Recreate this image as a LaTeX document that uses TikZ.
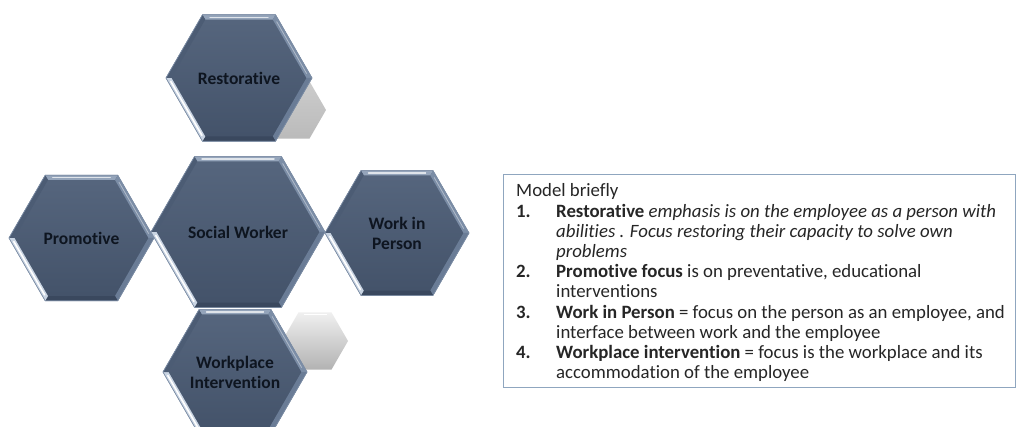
\documentclass[tikz,border=0pt]{standalone}
\usepackage{fontspec}
\setmainfont{Carlito}[Ligatures=NoCommon]
\definecolor{hexTop}{HTML}{56667E}
\definecolor{hexBot}{HTML}{435269}
\definecolor{hexEdge}{HTML}{7D8EA6}
\definecolor{bevLight}{HTML}{C9D4E2}
\definecolor{bevTopC}{HTML}{94A4BA}
\definecolor{bevUR}{HTML}{7B8DA6}
\definecolor{bevLR}{HTML}{6A7C96}
\definecolor{bevBot}{HTML}{3A485E}
\definecolor{bevUL}{HTML}{4C5C74}
\definecolor{labelCol}{HTML}{0E1520}
\definecolor{textCol}{HTML}{262626}
\definecolor{frameCol}{HTML}{8FA6BF}
\begin{document}
\begin{tikzpicture}[x=1pt,y=-1pt,
  hexface/.style={top color=hexTop,bottom color=hexBot,draw=hexEdge,line width=0.6pt},
  hexlabel/.style={align=center,inner sep=0pt,text=labelCol,
    font=\fontsize{17.5}{20}\selectfont\bfseries},
  greyhexA/.style={top color=black!20,bottom color=black!27},
  greyhexB/.style={top color=black!6,bottom color=black!30},
  boxline/.style={anchor=base west,inner sep=0pt,text=textCol,
    font=\fontsize{18.8}{20}\selectfont},
  boxnum/.style={boxline,font=\fontsize{18.8}{20}\selectfont\bfseries},
  notebox/.style={draw=frameCol,line width=0.8pt,fill=white,inner sep=0pt}]

\useasboundingbox[fill=white] (0,0) rectangle (1022,427);
\clip (0,0) rectangle (1022,427);

% bevelled hexagon: name, centre, radius, label
\newcommand\bevelhex[4]{%
  \begin{scope}[shift={#2}]
    \pgfmathsetmacro\ri{#3-5.5}
    \pgfmathsetmacro\rm{#3-2.8}
    \path[hexface] (0:#3)--(60:#3)--(120:#3)--(180:#3)--(240:#3)--(300:#3)--cycle;
    \fill[bevTopC] (240:#3)--(300:#3)--(300:\ri)--(240:\ri)--cycle;
    \fill[bevUR]   (300:#3)--(0:#3)--(0:\ri)--(300:\ri)--cycle;
    \fill[bevLR]   (0:#3)--(60:#3)--(60:\ri)--(0:\ri)--cycle;
    \fill[bevBot]  (60:#3)--(120:#3)--(120:\ri)--(60:\ri)--cycle;
    \fill[bevLight](120:#3)--(180:#3)--(180:\ri)--(120:\ri)--cycle;
    \fill[bevUL]   (180:#3)--(240:#3)--(240:\ri)--(180:\ri)--cycle;
    \draw[white,line width=1.6pt,line cap=round,shorten <=4pt,shorten >=4pt]
      (120:\rm)--(180:\rm);
    \draw[white!70!bevTopC,line width=1.2pt,line cap=round,shorten <=6pt,shorten >=6pt]
      (240:\rm)--(300:\rm);
    \draw[white!40!bevUR,line width=0.8pt,shorten <=5pt,shorten >=5pt]
      (300:\rm)--(0:\rm);
    \path[draw=hexEdge,line width=0.6pt] (0:#3)--(60:#3)--(120:#3)--(180:#3)--(240:#3)--(300:#3)--cycle;
    \node[hexlabel] (#1) at (0,0) {#4};
  \end{scope}}

% small grey hexagons behind the cells
\begin{scope}[shift={(293,110)}]
  \path[greyhexA] (0:33)--(60:33)--(120:33)--(180:33)--(240:33)--(300:33)--cycle;
\end{scope}
\begin{scope}[shift={(315,341)}]
  \path[greyhexB] (0:33)--(60:33)--(120:33)--(180:33)--(240:33)--(300:33)--cycle;
  \draw[white,line width=1.2pt,shorten <=4pt,shorten >=4pt] (240:31)--(300:31);
\end{scope}

% the five cells
\bevelhex{restorative}{(239,78)}{73}{Restorative}
\bevelhex{workplace}{(235,372)}{72}{Workplace\\Intervention}
\bevelhex{promotive}{(81.5,238)}{72.5}{Promotive}
\bevelhex{workperson}{(397,233)}{72}{Work in\\Person}
\bevelhex{social}{(238,232)}{87}{Social Worker}

% explanatory notes
\node[notebox,minimum width=512pt,minimum height=213pt,anchor=north west] (notes) at (503,174) {};
\node[boxline] (title) at (516,197) {Model briefly};
\node[boxnum] (n1) at (516,217.2) {1.};
\node[boxline] (l1a) at (556,217.2) {\textbf{Restorative} \textit{emphasis is on the employee as a person with}};
\node[boxline] (l1b) at (556,237.4) {\textit{abilities . Focus restoring their capacity to solve own}};
\node[boxline] (l1c) at (556,257.6) {\textit{problems}};
\node[boxnum] (n2) at (516,277.8) {2.};
\node[boxline] (l2a) at (556,277.8) {\textbf{Promotive focus} is on preventative, educational};
\node[boxline] (l2b) at (556,298) {interventions};
\node[boxnum] (n3) at (516,318.2) {3.};
\node[boxline] (l3a) at (556,318.2) {\textbf{Work in Person} = focus on the person as an employee, and};
\node[boxline] (l3b) at (556,338.4) {interface between work and the employee};
\node[boxnum] (n4) at (516,358.6) {4.};
\node[boxline] (l4a) at (556,358.6) {\textbf{Workplace intervention} = focus is the workplace and its};
\node[boxline] (l4b) at (556,378.8) {accommodation of the employee};
\end{tikzpicture}
\end{document}
